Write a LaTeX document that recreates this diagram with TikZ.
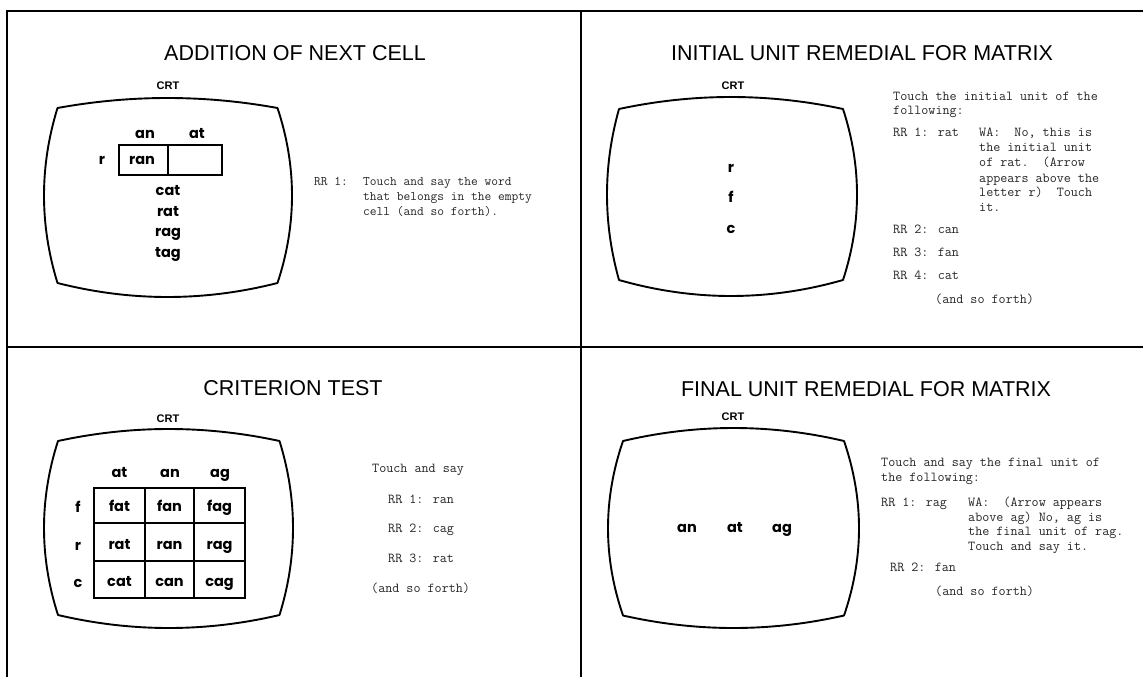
\documentclass[tikz,border=0pt]{standalone}
\usepackage{fontspec}
\setmainfont{Liberation Sans}
\newfontfamily\twfont{Latin Modern Mono}
\newfontfamily\wdfont{Poppins}
\tikzset{
  frame/.style={line width=1.8pt, black},
  crt/.style={line width=1.9pt, line join=round},
  gridline/.style={line width=1.7pt},
  title/.style={anchor=base, inner sep=0pt, font=\fontsize{21.5}{24}\selectfont},
  crtlbl/.style={anchor=base, inner sep=0pt, font=\fontsize{11}{13}\selectfont\bfseries},
  word/.style={anchor=base, inner sep=0pt, font=\fontsize{14.5}{16}\selectfont\wdfont\bfseries},
  twa/.style={anchor=base west, inner sep=0pt, text=black!85, font=\fontsize{13.1}{15}\selectfont\twfont},
  twb/.style={anchor=base west, inner sep=0pt, text=black!85, font=\fontsize{13.7}{15}\selectfont\twfont},
}
\newcommand\crtscreen[8]{% L R T B bulge-top bulge-bottom bulge-left bulge-right
  \draw[crt] (#1,#3) .. controls ({#1+(#2-#1)/3},{#3-1.333*#5}) and ({#2-(#2-#1)/3},{#3-1.333*#5}) .. (#2,#3)
    .. controls ({#2+1.333*#8},{#3+(#4-#3)/3}) and ({#2+1.333*#8},{#4-(#4-#3)/3}) .. (#2,#4)
    .. controls ({#2-(#2-#1)/3},{#4+1.333*#6}) and ({#1+(#2-#1)/3},{#4+1.333*#6}) .. (#1,#4)
    .. controls ({#1-1.333*#7},{#4-(#4-#3)/3}) and ({#1-1.333*#7},{#3+(#4-#3)/3}) .. cycle;}
\begin{document}
\begin{tikzpicture}[x=1pt,y=-1pt]
\useasboundingbox (0,0) rectangle (1143,677);
% frame
\coordinate (ftl) at (7,11); \coordinate (ftr) at (1143,11);
\coordinate (fbl) at (7,677);
\coordinate (fmt) at (581,11); \coordinate (fmb) at (581,677);
\coordinate (fml) at (7,347); \coordinate (fmr) at (1143,347);
\draw[frame] (ftr) -- (ftl) -- (fbl);
\draw[frame] (fmt) -- (fmb);
\draw[frame] (fml) -- (fmr);

% ---------- panel 1 ----------
\node[title] (t1) at (295,60.5) {ADDITION OF NEXT CELL};
\node[crtlbl] (c1) at (168,89) {CRT};
\crtscreen{57.5}{277.5}{108}{283}{10}{14}{13.5}{14.5}
\node[word] (p1an) at (145,138) {an};
\node[word] (p1at) at (197,138) {at};
\draw[gridline] (119,145) rectangle (222,175);
\draw[gridline] (168,145) -- (168,175);
\node[word] (p1r) at (102,164) {r};
\node[word] (p1ran) at (142,164) {ran};
\node[word] (p1cat) at (168,195.5) {cat};
\node[word] (p1rat) at (168,216) {rat};
\node[word] (p1rag) at (168,236.5) {rag};
\node[word] (p1tag) at (168,257) {tag};
\node[twa] (p1rr) at (314,185.5) {RR 1:};
\node[twa] (p1l1) at (363,185.5) {Touch and say the word};
\node[twa] (p1l2) at (363,200) {that belongs in the empty};
\node[twa] (p1l3) at (363,215.5) {cell (and so forth).};

% ---------- panel 2 ----------
\node[title] (t2) at (862,60.5) {INITIAL UNIT REMEDIAL FOR MATRIX};
\node[crtlbl] (c2) at (733,89) {CRT};
\crtscreen{619}{843}{109}{280}{12}{16}{12}{14}
\node[word] (p2r) at (731,172) {r};
\node[word] (p2f) at (731,202) {f};
\node[word] (p2c) at (731,233) {c};
\node[twb] (p2a) at (893,100.5) {Touch the initial unit of the};
\node[twb] (p2b) at (893,114) {following:};
\node[twb] (p2c1) at (893,136.5) {RR 1: rat};
\node[twb] (p2w1) at (979,136.5) {WA:\ \ No, this is};
\node[twb] (p2w2) at (979,151.5) {the initial unit};
\node[twb] (p2w3) at (979,166.5) {of rat.\ \ (Arrow};
\node[twb] (p2w4) at (979,182) {appears above the};
\node[twb] (p2w5) at (979,196.5) {letter r)\ \ Touch};
\node[twb] (p2w6) at (979,211.5) {it.};
\node[twb] (p2c2) at (893,233.5) {RR 2: can};
\node[twb] (p2c3) at (893,256.5) {RR 3: fan};
\node[twb] (p2c4) at (893,279.5) {RR 4: cat};
\node[twb] (p2e) at (935,303.5) {(and so forth)};

% ---------- panel 3 ----------
\node[title] (t3) at (293,395.5) {CRITERION TEST};
\node[crtlbl] (c3) at (168,422) {CRT};
\crtscreen{58}{279.5}{441}{615}{12}{13}{14}{13.5}
\node[word] (p3h1) at (119.5,477) {at};
\node[word] (p3h2) at (170,477) {an};
\node[word] (p3h3) at (220,477) {ag};
\draw[gridline] (94,488) rectangle (245,598);
\draw[gridline] (145,488) -- (145,598);
\draw[gridline] (194,488) -- (194,598);
\draw[gridline] (94,523) -- (245,523);
\draw[gridline] (94,561) -- (245,561);
\node[word] (p3f) at (78,512) {f};
\node[word] (p3r) at (78,550) {r};
\node[word] (p3c) at (78,587) {c};
\node[word] (p3fat) at (119.5,511.5) {fat};
\node[word] (p3fan) at (169.5,511.5) {fan};
\node[word] (p3fag) at (219.5,511.5) {fag};
\node[word] (p3rat) at (119.5,549.5) {rat};
\node[word] (p3ran) at (169.5,549.5) {ran};
\node[word] (p3rag) at (219.5,549.5) {rag};
\node[word] (p3cat) at (119.5,586.5) {cat};
\node[word] (p3can) at (169.5,586.5) {can};
\node[word] (p3cag) at (219.5,586.5) {cag};
\node[twb] (p3a) at (372,472.5) {Touch and say};
\node[twb] (p3b) at (388,503.5) {RR 1: ran};
\node[twb] (p3c) at (388,532.5) {RR 2: cag};
\node[twb] (p3d) at (388,562.5) {RR 3: rat};
\node[twb] (p3e) at (371,592.5) {(and so forth)};

% ---------- panel 4 ----------
\node[title] (t4) at (866,396) {FINAL UNIT REMEDIAL FOR MATRIX};
\node[crtlbl] (c4) at (733,420) {CRT};
\crtscreen{623}{844}{441}{615.5}{13}{12.5}{15}{15}
\node[word] (p4an) at (687,532) {an};
\node[word] (p4at) at (735,532) {at};
\node[word] (p4ag) at (782,532) {ag};
\node[twb] (p4a) at (881,466.5) {Touch and say the final unit of};
\node[twb] (p4b) at (881,481.5) {the following:};
\node[twb] (p4c) at (881,506.5) {RR 1: rag};
\node[twb] (p4w1) at (968,506.5) {WA:\ \ (Arrow appears};
\node[twb] (p4w2) at (968,521) {above ag) No, ag is};
\node[twb] (p4w3) at (968,535.5) {the final unit of rag.};
\node[twb] (p4w4) at (968,550) {Touch and say it.};
\node[twb] (p4d) at (890,571.5) {RR 2: fan};
\node[twb] (p4e) at (935,595.5) {(and so forth)};
\end{tikzpicture}
\end{document}
